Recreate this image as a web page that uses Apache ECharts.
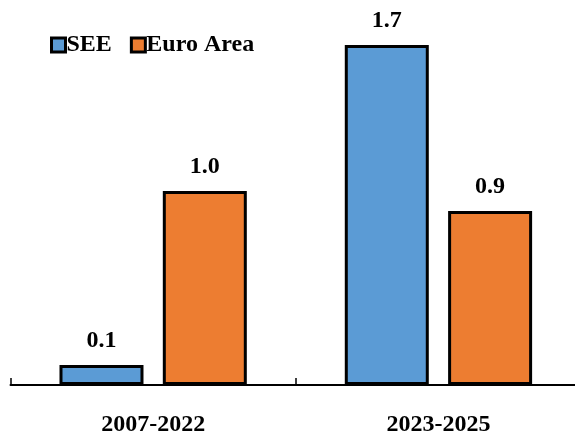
<!DOCTYPE html>
<html>
<head>
<meta charset="utf-8">
<script src="https://cdn.jsdelivr.net/npm/echarts@6/dist/echarts.min.js"></script>
<style>
html,body{margin:0;padding:0;background:#fff;overflow:hidden;width:575px;height:437px;}
#chart{width:584px;height:437px;}
</style>
</head>
<body>
<div id="chart"></div>
<script>
const categories = ['2007-2022', '2023-2025'];
const seeValues = [0.1, 1.7];
const euroValues = [0.97, 0.87];
const seriesNames = ['SEE', 'Euro Area'];

const FONT = "'Liberation Serif', 'Times New Roman', serif";
const chart = echarts.init(document.getElementById('chart'));

const labelCfg = {
  show: true,
  position: 'top',
  distance: 12,
  fontFamily: FONT,
  fontWeight: 'bold',
  fontSize: 24,
  color: '#000',
  formatter: p => p.value.toFixed(1)
};

chart.setOption({
  animation: false,
  backgroundColor: '#fff',
  legend: {
    left: 45,
    top: 28,
    itemWidth: 14,
    itemHeight: 14,
    itemGap: 18,
    icon: 'rect',
    itemStyle: { borderColor: '#000', borderWidth: 3 },
    textStyle: { fontFamily: FONT, fontWeight: 'bold', fontSize: 24, color: '#000', padding: [0,0,0,-4] },
    data: seriesNames
  },
  grid: { left: 10.5, width: 570.6, top: 25, height: 360 },
  xAxis: {
    type: 'category',
    data: categories,
    axisLine: { lineStyle: { color: '#000', width: 2 } },
    axisTick: { show: true, inside: true, length: 7, lineStyle: { color: '#000', width: 1.5 } },
    axisLabel: { margin: 28, fontFamily: FONT, fontWeight: 'bold', fontSize: 24, color: '#000' }
  },
  yAxis: {
    type: 'value', min: 0, max: 1.8, show: false,
    splitLine: { show: false }
  },
  series: [
    {
      name: seriesNames[0], type: 'bar', data: seeValues,
      barWidth: 84, barGap: '23%',
      itemStyle: { color: '#5B9BD5', borderColor: '#000', borderWidth: 3 },
      label: labelCfg
    },
    {
      name: seriesNames[1], type: 'bar', data: euroValues,
      barWidth: 84, barGap: '23%',
      itemStyle: { color: '#ED7D31', borderColor: '#000', borderWidth: 3 },
      label: labelCfg
    }
  ]
});
</script>
</body>
</html>
